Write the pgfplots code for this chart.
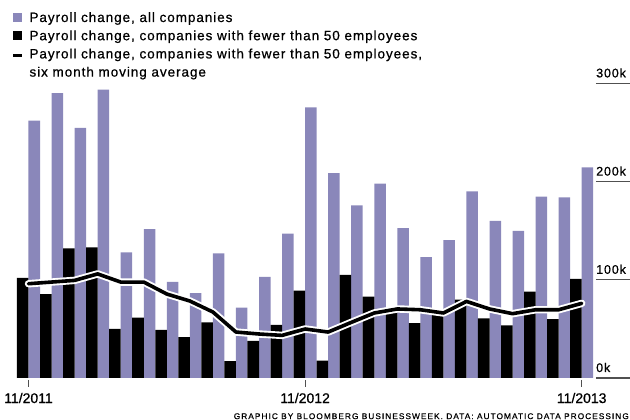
\documentclass[border=0pt]{standalone}
\usepackage{fontspec}
\setmainfont{Liberation Sans}[FakeBold=0.7]
\newfontfamily\legf[LetterSpace=7.0, FakeBold=0.7]{Liberation Sans}
\newfontfamily\tickf[LetterSpace=7, FakeBold=0.7]{Liberation Sans}
\newfontfamily\srcf[LetterSpace=12.5, FakeBold=0.6]{Liberation Sans}
\usepackage{pgfplots}
\pgfplotsset{compat=1.18}
\definecolor{allc}{RGB}{138,135,186}
\definecolor{gridc}{RGB}{80,80,80}
\begin{document}
\begin{tikzpicture}
\useasboundingbox (0,0) rectangle (630bp,420bp);
\begin{axis}[at={(0bp,0bp)}, anchor=south west, scale only axis,
  width=630bp, height=420bp, hide axis, clip=false,
  xmin=-1.2364, xmax=26.095, ymin=-42.77, ymax=384.93]
% all companies
\addplot[ybar, bar width=0.5, bar shift=0.25, fill=allc, draw=none] coordinates {
(0,262) (1,290) (2,254.6) (3,293.6) (4,128) (5,151.7) (6,98) (7,86.5) (8,127)
(9,71.6) (10,103) (11,147) (12,275.6) (13,208.7) (14,175.8) (15,197.9) (16,152.7)
(17,123) (18,140.5) (19,190) (20,159.9) (21,149.7) (22,184.6) (23,183.9) (24,214.5)};
% fewer than 50
\addplot[ybar, bar width=0.5, bar shift=-0.25, fill=black, draw=none] coordinates {
(0,102) (1,85.5) (2,132) (3,133) (4,50) (5,61.4) (6,48.9) (7,41.7) (8,56.6)
(9,17.3) (10,37.7) (11,54) (12,89) (13,17.6) (14,104.9) (15,82.8) (16,67.8)
(17,56) (18,64.5) (19,79.7) (20,60.7) (21,53.6) (22,87.9) (23,60) (24,101)};
% moving average halo
\addplot[white, line width=7.4bp, line cap=round, line join=round, mark=none] coordinates {
(0,96) (1,97.7) (2,99.4) (3,106) (4,97.7) (5,97.7) (6,85.5) (7,78.4) (8,67.2)
(9,46.8) (10,44.8) (11,43.4) (12,49.9) (13,46.8) (14,56.6) (15,66.2) (16,70.3)
(17,69.5) (18,66.2) (19,78) (20,70.3) (21,65.5) (22,69.5) (23,69.5) (24,76)};
\addplot[black, line width=3.6bp, line cap=round, line join=round, mark=none] coordinates {
(0,96) (1,97.7) (2,99.4) (3,106) (4,97.7) (5,97.7) (6,85.5) (7,78.4) (8,67.2)
(9,46.8) (10,44.8) (11,43.4) (12,49.9) (13,46.8) (14,56.6) (15,66.2) (16,70.3)
(17,69.5) (18,66.2) (19,78) (20,70.3) (21,65.5) (22,69.5) (23,69.5) (24,76)};
% right value axis
\draw[gridc, line width=1.3bp] (axis cs:24.61,300) -- (axis cs:26.2,300);
\draw[gridc, line width=1.3bp] (axis cs:24.61,200) -- (axis cs:26.2,200);
\draw[gridc, line width=1.3bp] (axis cs:24.61,100) -- (axis cs:26.2,100);
\draw[gridc, line width=1.3bp] (axis cs:24.61,0) -- (axis cs:26.2,0);
\node[anchor=base west, inner sep=0pt, yshift=6bp, font=\tickf\fontsize{12.5bp}{14bp}\selectfont] at (axis cs:24.62,300) {300k};
\node[anchor=base west, inner sep=0pt, yshift=6bp, font=\tickf\fontsize{12.5bp}{14bp}\selectfont] at (axis cs:24.62,200) {200k};
\node[anchor=base west, inner sep=0pt, yshift=6bp, font=\tickf\fontsize{12.5bp}{14bp}\selectfont] at (axis cs:24.62,100) {100k};
\node[anchor=base west, inner sep=0pt, yshift=6bp, font=\tickf\fontsize{12.5bp}{14bp}\selectfont] at (axis cs:24.62,0) {0k};
% date ticks
\draw[gridc, line width=1bp] (axis cs:0,-2) -- (axis cs:0,-9.2);
\draw[gridc, line width=1bp] (axis cs:12,-2) -- (axis cs:12,-9.2);
\draw[gridc, line width=1bp] (axis cs:24,-2) -- (axis cs:24,-9.2);
\node[anchor=base, inner sep=0pt, font=\fontsize{14bp}{16bp}\selectfont] at (axis cs:0,-25.5) {11/2011};
\node[anchor=base, inner sep=0pt, font=\fontsize{14bp}{16bp}\selectfont] at (axis cs:12,-25.5) {11/2012};
\node[anchor=base, inner sep=0pt, font=\fontsize{14bp}{16bp}\selectfont] at (axis cs:24,-25.5) {11/2013};
\end{axis}
% legend
\fill[allc] (12.7bp,398bp) rectangle (21.7bp,407bp);
\fill[black] (12.7bp,379.5bp) rectangle (21.7bp,388.5bp);
\fill[black] (12.7bp,362.6bp) rectangle (21.7bp,365.6bp);
\begin{scope}[every node/.style={anchor=base west, inner sep=0pt, font=\legf\fontsize{13.5bp}{16bp}\selectfont}]
\node at (29.3bp,398bp) {Payroll change, all companies};
\node at (29.3bp,379.8bp) {Payroll change, companies with fewer than 50 employees};
\node at (29.3bp,361.6bp) {Payroll change, companies with fewer than 50 employees,};
\node at (29.3bp,343.4bp) {six month moving average};
\end{scope}
\node[anchor=base east, inner sep=0pt, font=\srcf\fontsize{8.3bp}{10bp}\selectfont] at (629bp,0.9bp) {GRAPHIC BY BLOOMBERG BUSINESSWEEK. DATA: AUTOMATIC DATA PROCESSING};
\end{tikzpicture}
\end{document}
